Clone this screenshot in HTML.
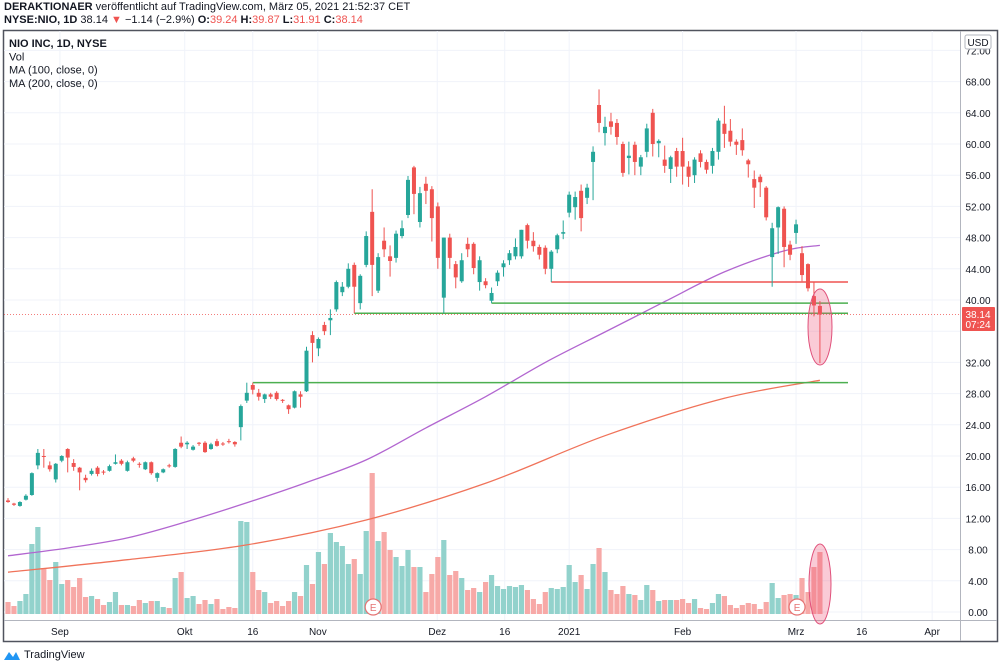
<!DOCTYPE html>
<html><head><meta charset="utf-8">
<style>
html,body{margin:0;padding:0;background:#fff;}
body{width:1000px;height:669px;overflow:hidden;position:relative;font-family:"Liberation Sans",sans-serif;}
.hdr{position:absolute;left:4px;font-size:11px;color:#131722;white-space:nowrap;}
.r{color:#ef5350}
</style></head>
<body>
<div class="hdr" style="top:1px"><b>DERAKTIONAER</b> veröffentlicht auf TradingView.com, März 05, 2021 21:52:37 CET</div>
<div class="hdr" style="top:14px"><b>NYSE:NIO, 1D</b> 38.14 <span class="r">▼</span> −1.14 (−2.9%) <b>O:</b><span class="r">39.24</span> <b>H:</b><span class="r">39.87</span> <b>L:</b><span class="r">31.91</span> <b>C:</b><span class="r">38.14</span></div>
<svg id="chart" width="1000" height="669" style="position:absolute;left:0;top:0"></svg>
<div style="position:absolute;left:3px;top:649px;font-size:11px;color:#131722;display:flex;align-items:center">
<svg width="18" height="12" style="margin-right:3px"><path d="M1 11 L6 3 L10 8 L13 3 L17 11 Z" fill="#2196f3"/></svg>TradingView</div>
<script>
const ohlc=[
[14.3,14.6,14.0,14.1],[13.9,14.0,13.6,13.75],[13.6,14.2,13.5,14.1],[14.4,15.1,14.3,14.9],[15.0,17.9,14.9,17.8],
[18.8,20.9,18.3,20.4],[20.0,20.9,18.5,19.9],[18.8,19.3,18.0,18.3],[17.0,19.1,16.6,19.0],[19.4,20.1,19.2,20.0],
[20.9,21.0,17.9,19.8],[19.1,19.6,18.1,18.6],[18.5,18.6,15.6,17.9],[17.2,17.6,16.6,16.9],[17.7,18.4,17.5,18.1],
[18.5,18.7,17.4,17.7],[18.0,18.2,17.6,17.9],[18.1,18.9,18.0,18.7],[19.0,20.2,18.9,19.2],[19.4,19.6,18.8,19.0],
[18.1,19.4,18.0,19.2],[19.7,19.9,19.2,19.4],[19.0,19.2,18.5,18.9],[18.3,19.3,18.2,19.2],[19.2,19.3,17.6,17.8],
[17.2,17.9,16.7,17.8],[17.9,18.4,17.8,18.3],[18.8,19.0,18.5,18.7],[18.6,21.0,18.5,20.9],[21.7,22.5,21.0,21.2],
[21.5,21.9,20.9,21.7],[20.8,21.4,20.7,21.2],[21.7,21.8,21.3,21.6],[21.7,21.9,20.4,20.5],[20.9,21.7,20.8,21.5],
[21.9,22.2,21.2,21.3],[21.6,21.8,21.3,21.5],[21.9,22.2,21.6,21.8],[21.8,21.9,21.2,21.5],[23.7,26.6,22.0,26.4],
[27.1,29.4,26.8,28.1],[29.1,29.4,27.9,28.5],[28.1,28.6,27.1,27.6],[27.3,28.0,26.8,27.9],[27.9,28.1,27.3,27.6],
[28.1,28.3,27.1,27.3],[27.2,27.3,26.8,27.1],[26.5,26.6,25.4,26.0],[26.2,28.4,26.1,28.3],[27.9,28.3,26.2,27.6],
[28.3,34.0,28.2,33.5],[35.5,36.0,32.0,34.5],[33.8,35.2,32.8,35.0],[36.8,37.2,35.5,36.0],[37.4,38.8,35.5,37.7],
[38.8,42.5,38.5,42.3],[41.0,42.3,40.5,41.7],[41.7,44.7,41.5,44.0],[44.5,44.8,38.3,41.7],[39.6,43.3,38.8,43.1],
[44.5,48.8,44.2,48.2],[51.3,54.2,40.5,44.5],[41.2,46.0,40.9,45.5],[47.6,49.3,45.5,46.5],[45.6,47.0,43.0,45.0],
[45.4,48.9,44.8,48.5],[48.2,50.2,47.9,49.2],[50.9,55.9,50.5,55.4],[57.0,57.2,51.0,53.6],[50.0,54.5,49.3,53.7],
[54.9,55.8,52.3,54.0],[54.2,54.6,47.5,50.5],[52.0,52.5,44.0,45.4],[40.3,48.0,38.3,48.0],[48.0,48.5,44.0,45.4],
[44.6,45.0,41.5,42.9],[42.4,46.0,42.2,45.1],[47.2,48.0,45.5,46.5],[47.2,47.4,43.3,44.1],[42.3,45.6,41.2,45.1],
[42.4,42.8,41.5,41.9],[39.9,41.6,39.6,40.9],[42.4,43.8,41.8,43.5],[44.2,45.1,43.0,44.7],[45.1,46.4,44.5,46.0],
[45.6,47.9,45.2,46.8],[45.6,49.0,45.3,49.0],[49.6,49.8,46.6,47.6],[47.6,48.7,46.2,46.9],[46.8,47.1,45.2,45.8],
[46.7,47.0,43.3,44.0],[44.0,46.4,42.3,46.2],[46.5,48.5,46.0,48.3],[48.5,50.2,47.8,48.7],[51.2,53.9,50.6,53.5],
[51.9,53.9,50.3,53.2],[54.0,54.8,48.8,50.5],[53.1,54.9,52.3,54.4],[57.7,59.7,52.8,59.0],[65.0,67.0,61.5,62.7],
[61.4,63.5,59.8,62.2],[62.9,64.0,61.2,62.2],[62.7,63.2,59.9,60.9],[60.0,60.3,55.8,56.3],[58.2,60.3,56.1,58.5],
[59.9,60.3,56.0,57.7],[57.1,58.6,56.0,58.3],[59.0,62.6,58.3,62.0],[64.0,64.5,58.4,60.0],[60.1,60.6,58.3,60.4],
[58.0,59.8,56.3,57.2],[56.8,58.5,55.0,58.3],[59.1,59.5,55.8,57.1],[59.1,60.8,54.8,57.1],[57.1,57.8,54.5,55.8],
[56.0,58.3,55.0,58.0],[58.8,59.2,57.0,57.7],[57.7,58.0,56.2,56.7],[57.2,59.5,56.2,59.1],[59.0,63.3,58.0,63.0],
[62.6,64.9,59.5,61.3],[61.7,63.2,59.7,60.3],[60.3,60.6,58.6,59.9],[60.5,62.0,58.5,59.2],[57.9,58.1,55.7,57.4],
[55.5,56.6,51.8,54.4],[55.8,56.1,53.2,55.1],[54.4,54.6,50.2,50.6],[45.5,49.9,41.7,49.2],[49.3,52.0,45.9,51.9],
[51.7,52.0,44.2,46.8],[47.1,47.6,45.1,45.8],[48.6,50.3,47.2,49.7],[46.0,46.9,42.4,43.2],[44.6,44.7,41.1,41.5],
[40.5,42.3,37.9,39.3],[39.24,39.87,31.91,38.14]];
const volumes=[12,8,13,20,70,87,46,34,52,30,34,27,36,17,18,15,9,12,22,9,9,8,14,11,13,13,7,6,36,42,16,18,10,14,10,15,5,7,6,93,92,42,24,22,11,13,8,13,22,18,49,30,62,50,81,72,68,50,55,40,83,141,73,82,64,57,48,64,47,
47,22,40,57,74,39,43,36,24,26,22,32,39,28,25,28,27,29,24,15,10,22,26,25,27,49,32,39,25,50,66,42,24,20,28,20,19,14,29,24,13,14,14,14,15,11,15,6,5,11,20,18,9,6,9,11,10,5,12,31,16,19,20,19,36,22,47,62];
const ma100Idx=[0,10,20,30,40,50,60,70,80,90,100,110,120,130,136];
const ma100=[7.2,8.2,9.5,11.6,14.0,16.6,19.5,23.6,27.6,32.0,35.9,39.8,43.6,46.3,47.0];
const ma200Idx=[0,20,40,60,80,100,120,136];
const ma200=[5.1,6.7,8.6,11.8,16.5,22.6,27.4,29.7];
const priceTicks=[0,4,8,12,16,20,24,28,32,36,40,44,48,52,56,60,64,68,72];
const dateLabels=["Sep","Okt","16","Nov","Dez","16","2021","Feb","Mrz","16","Apr"];
const dateIdx=[8.7,29.6,41,51.9,71.9,83.2,94,113,132,143,154.8];
const levels=[[42.3,91,"#ef5350"],[39.6,81,"#4caf50"],[38.3,58,"#4caf50"],[29.4,41,"#4caf50"]];

const NS="http://www.w3.org/2000/svg";
const svg=document.getElementById('chart');
const X=i=>8+i*5.97;
const Y=p=>612-p*7.8;
const VY=v=>614-v;
function mk(tag,attrs,parent){const e=document.createElementNS(NS,tag);for(const k in attrs)e.setAttribute(k,attrs[k]);(parent||svg).appendChild(e);return e;}
const G="#26a69a",R="#ef5350";
let e=mk('rect',{x:3.5,y:30.5,width:994,height:611,fill:'#fff',stroke:'#50535e','stroke-width':1.5});

for(const p of priceTicks){e=mk('line',{x1:4,x2:960,y1:Y(p),y2:Y(p),stroke:'#f0f3fa'});
}
for(const d of dateIdx){e=mk('line',{x1:X(d),x2:X(d),y1:31,y2:620,stroke:'#f0f3fa'});
}
e=mk('line',{x1:960.5,x2:960.5,y1:31,y2:641,stroke:'#b2b5be'});

e=mk('line',{x1:4,x2:997,y1:620.5,y2:620.5,stroke:'#b2b5be'});

volumes.forEach((v,i)=>{const c=ohlc[i];const up=c[3]>=c[0];
e=mk('rect',{x:X(i)-2.6,y:VY(v),width:5.2,height:v,fill:up?'#92d2cc':'#f7a9a7'});
});
function maPath(idx,vals){const P=idx.map((i,k)=>[X(i),Y(vals[k])]);let d='M'+P[0][0].toFixed(1)+' '+P[0][1].toFixed(1);
for(let k=0;k<P.length-1;k++){const p0=P[k-1]||P[k],p1=P[k],p2=P[k+1],p3=P[k+2]||P[k+1];
const c1=[p1[0]+(p2[0]-p0[0])/6,p1[1]+(p2[1]-p0[1])/6],c2=[p2[0]-(p3[0]-p1[0])/6,p2[1]-(p3[1]-p1[1])/6];
d+=' C'+c1[0].toFixed(1)+' '+c1[1].toFixed(1)+' '+c2[0].toFixed(1)+' '+c2[1].toFixed(1)+' '+p2[0].toFixed(1)+' '+p2[1].toFixed(1);}
return d;}
e=mk('path',{d:maPath(ma100Idx,ma100),fill:'none',stroke:'#b266d0','stroke-width':1.3});

e=mk('path',{d:maPath(ma200Idx,ma200),fill:'none',stroke:'#f0735a','stroke-width':1.3});

levels.forEach(l=>{e=mk('line',{x1:X(l[1]),x2:848,y1:Y(l[0]),y2:Y(l[0]),stroke:l[2],'stroke-width':1.5});
});
e=mk('line',{x1:4,x2:960,y1:Y(38.14),y2:Y(38.14),stroke:'#ef5350','stroke-width':0.8,'stroke-dasharray':'1 2'});

ohlc.forEach((c,i)=>{const up=c[3]>=c[0];const col=up?G:R;const x=X(i);
e=mk('line',{x1:x,x2:x,y1:Y(c[1]),y2:Y(c[2]),stroke:col,'stroke-width':1});

const t=Y(Math.max(c[0],c[3])),b=Y(Math.min(c[0],c[3]));
e=mk('rect',{x:x-2,y:t,width:4,height:Math.max(1,b-t),fill:col});
});
e=mk('ellipse',{cx:820,cy:327,rx:12,ry:38,fill:'rgba(239,83,120,0.3)',stroke:'#e0507a','stroke-width':1});

e=mk('ellipse',{cx:820,cy:584,rx:11,ry:40,fill:'rgba(239,83,120,0.3)',stroke:'#e0507a','stroke-width':1});

[61,132].forEach(i=>{const g=mk('g',{});

mk('circle',{cx:X(i)+1,cy:607,r:8,fill:'#fff',stroke:'#e57373','stroke-width':1.2},g);
const t=mk('text',{x:X(i)+1,y:611,'font-size':10,'text-anchor':'middle',fill:'#e57373','font-family':'Liberation Sans'},g);t.textContent='E';});
priceTicks.forEach(p=>{if(Math.abs(p-36)<0.1)return;e=mk('text',{x:978,y:Y(p)+4,'font-size':10,'text-anchor':'middle',fill:'#131722','font-family':'Liberation Sans'});
e.textContent=p.toFixed(2);});
e=mk('rect',{x:965,y:35,width:26,height:14,fill:'#fff',stroke:'#b2b5be',rx:2});

e=mk('text',{x:978,y:46,'font-size':10,'text-anchor':'middle',fill:'#131722','font-family':'Liberation Sans'});e.textContent='USD';

e=mk('rect',{x:962,y:307,width:33,height:24,fill:'#ef5350',rx:1});

e=mk('text',{x:978,y:318,'font-size':10,'text-anchor':'middle',fill:'#fff','font-family':'Liberation Sans'});e.textContent='38.14';

e=mk('text',{x:978,y:328,'font-size':10,'text-anchor':'middle',fill:'#fff','font-family':'Liberation Sans'});e.textContent='07:24';

dateLabels.forEach((d,k)=>{e=mk('text',{x:X(dateIdx[k]),y:635,'font-size':10,'text-anchor':'middle',fill:'#131722','font-family':'Liberation Sans'});
e.textContent=d;});
["NIO INC, 1D, NYSE","Vol","MA (100, close, 0)","MA (200, close, 0)"].forEach((s,k)=>{
e=mk('text',{x:9,y:47+k*13.3,'font-size':11,fill:'#131722','font-family':'Liberation Sans','font-weight':k?'normal':'bold'});
e.textContent=s;});
</script>
</body></html>
